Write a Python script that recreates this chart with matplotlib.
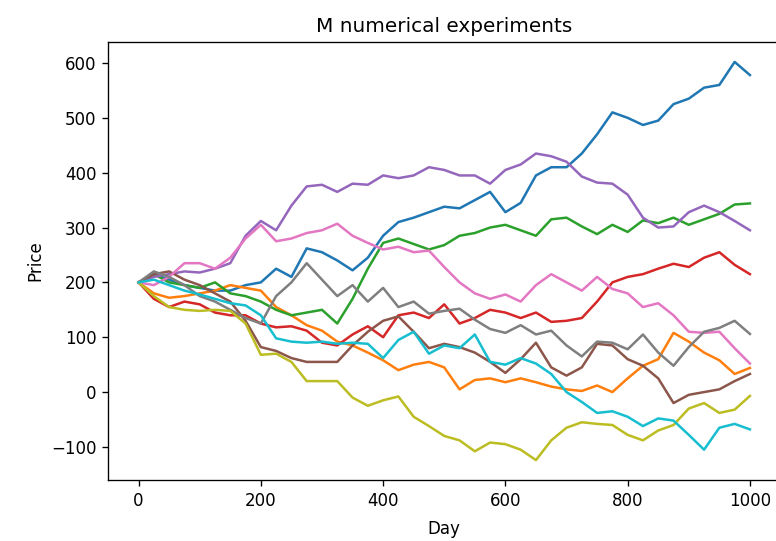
import numpy as np
import matplotlib
matplotlib.use("Agg")
from matplotlib import pyplot as plt

# 観測日（25日おき）
days = np.arange(0, 1001, 25)

# 各試行の価格（10本）
run_blue = [200, 215, 205, 195, 190, 185, 185, 195, 200, 225, 210, 262, 255, 240,
            222, 245, 285, 310, 318, 328, 338, 335, 350, 365, 328, 345, 395, 410,
            410, 435, 470, 510, 500, 487, 495, 525, 535, 555, 560, 602, 578]
run_orange = [200, 180, 172, 175, 180, 185, 195, 190, 185, 155, 140, 122, 112, 92,
              85, 72, 58, 40, 50, 55, 45, 5, 22, 25, 18, 25, 18, 10, 5, 2, 12, 0,
              25, 48, 60, 108, 92, 72, 58, 33, 44]
run_green = [200, 215, 200, 195, 190, 200, 180, 175, 165, 150, 140, 145, 150, 125,
             170, 225, 272, 280, 270, 260, 268, 285, 290, 300, 305, 295, 285, 315,
             318, 302, 288, 305, 292, 313, 308, 318, 305, 315, 325, 342, 344]
run_red = [200, 170, 155, 165, 160, 145, 140, 140, 125, 118, 120, 112, 90, 85, 105,
           120, 100, 140, 145, 135, 160, 125, 135, 150, 145, 135, 145, 128, 130,
           135, 165, 200, 210, 215, 225, 234, 228, 245, 255, 232, 215]
run_purple = [200, 210, 215, 220, 218, 225, 235, 285, 312, 295, 340, 375, 378, 365,
              380, 378, 395, 390, 395, 410, 405, 395, 395, 380, 405, 415, 435, 430,
              420, 393, 382, 380, 360, 318, 300, 302, 328, 340, 328, 312, 295]
run_brown = [200, 215, 220, 205, 195, 180, 165, 130, 82, 75, 62, 55, 55, 55, 85,
             110, 130, 138, 110, 80, 88, 82, 72, 55, 35, 60, 90, 45, 30, 45, 88, 85,
             60, 48, 25, -20, -5, 0, 5, 20, 33]
run_pink = [200, 195, 210, 235, 235, 225, 245, 280, 305, 275, 280, 290, 295, 307,
            285, 272, 260, 265, 255, 258, 228, 200, 180, 170, 178, 165, 195, 215,
            200, 185, 210, 188, 180, 155, 162, 140, 110, 108, 110, 80, 52]
run_gray = [200, 220, 210, 195, 175, 165, 150, 135, 125, 175, 200, 235, 205, 175,
            195, 165, 190, 155, 165, 143, 148, 152, 132, 115, 108, 122, 105, 112,
            85, 65, 92, 90, 78, 105, 72, 48, 82, 110, 117, 130, 106]
run_olive = [200, 175, 155, 150, 148, 150, 148, 125, 68, 70, 55, 20, 20, 20, -10,
             -25, -15, -8, -45, -62, -80, -88, -108, -92, -95, -105, -124, -88, -65,
             -55, -58, -60, -78, -88, -70, -60, -30, -20, -38, -32, -7]
run_cyan = [200, 205, 195, 185, 178, 170, 162, 158, 140, 98, 92, 90, 92, 88, 90, 88,
            62, 95, 110, 70, 85, 80, 105, 55, 50, 62, 52, 33, 0, -18, -38, -35, -45,
            -62, -48, -52, -78, -105, -65, -58, -68]

runs = [run_blue, run_orange, run_green, run_red, run_purple,
        run_brown, run_pink, run_gray, run_olive, run_cyan]

fig = plt.figure(figsize=(776 / 120, 541 / 120), dpi=120)
# 右端は画像の外まで伸ばす
ax = fig.add_axes([108 / 776, 61 / 541, 672.5 / 776, 438 / 541])

for run in runs:
    ax.plot(days, run)

ax.set_title("M numerical experiments")
ax.set_xlabel("Day", labelpad=6)
ax.set_ylabel("Price")
ax.set_yticks([-100, 0, 100, 200, 300, 400, 500, 600])

fig.savefig("out.png", dpi=120)
plt.close()
